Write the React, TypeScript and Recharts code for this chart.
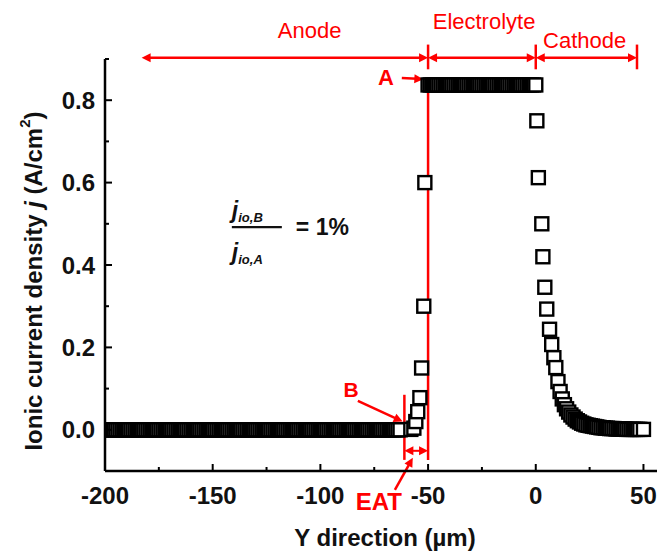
import React from 'react';
import { ScatterChart, Scatter, XAxis, YAxis, ReferenceLine, ReferenceDot } from 'recharts';

const RED = '#ff0000';
const FONT = '"Liberation Sans", Arial, Helvetica, sans-serif';

// axes
const xDomain = [-200, 60];
const yDomain = [-0.1, 0.9];
const xMajorTicks = [-200, -150, -100, -50, 0, 50];
const xMinorTicks = [-175, -125, -75, -25, 25];
const yMajorTicks = [0, 0.2, 0.4, 0.6, 0.8];
const yMinorTicks = [0.1, 0.3, 0.5, 0.7, 0.9];

// anode flat region (j ~ 0)
const anodeX = [
  -200, -199, -198, -197, -196, -195, -194, -193, -192, -191,
  -190, -189, -188, -187, -186, -185, -184, -183, -182, -181,
  -180, -179, -178, -177, -176, -175, -174, -173, -172, -171,
  -170, -169, -168, -167, -166, -165, -164, -163, -162, -161,
  -160, -159, -158, -157, -156, -155, -154, -153, -152, -151,
  -150, -149, -148, -147, -146, -145, -144, -143, -142, -141,
  -140, -139, -138, -137, -136, -135, -134, -133, -132, -131,
  -130, -129, -128, -127, -126, -125, -124, -123, -122, -121,
  -120, -119, -118, -117, -116, -115, -114, -113, -112, -111,
  -110, -109, -108, -107, -106, -105, -104, -103, -102, -101,
  -100, -99, -98, -97, -96, -95, -94, -93, -92, -91,
  -90, -89, -88, -87, -86, -85, -84, -83, -82, -81,
  -80, -79, -78, -77, -76, -75, -74, -73, -72, -71,
  -70, -69, -68, -67, -66, -65, -64, -63,
];
const anodeLevel = 0;

// rise in front of the electrolyte
const rampX = [-58, -56.6, -55.7, -54.8, -53.8, -53, -52, -51.5];
const rampY = [0.001, 0.004, 0.02, 0.044, 0.078, 0.15, 0.3, 0.6];

// electrolyte plateau
const plateauX = [
  -50, -49, -48, -47, -46, -45, -44, -43, -42, -41,
  -40, -39, -38, -37, -36, -35, -34, -33, -32, -31,
  -30, -29, -28, -27, -26, -25, -24, -23, -22, -21,
  -20, -19, -18, -17, -16, -15, -14, -13, -12, -11,
  -10, -9, -8, -7, -6, -5, -4, -3, -2, -1, 0,
];
const plateauLevel = 0.837;

// cathode decay
const cathodeX = [
  0.5, 1.2, 2.8, 3.3, 4.2, 5.1, 6.4, 7.4, 8.4, 9.3,
  10.3, 11.3, 12.3, 13.3, 14.3, 15.3, 16.3, 17.3, 18.3, 19.3,
  20.3, 21.3, 22.3, 23.3, 24.3, 25.3, 26.3, 27.3, 28.3, 29.3,
  30.3, 31.3, 32.3, 33.3, 34.3, 35.3, 36.3, 37.3, 38.3, 39.3,
  40.3, 41.3, 42.3, 43.3, 44.3, 45.3, 46.3, 47.3, 48.3, 50,
];
const cathodeY = [
  0.75, 0.612, 0.5, 0.42, 0.346, 0.293, 0.244, 0.207, 0.175, 0.151,
  0.117, 0.093, 0.075, 0.061, 0.051, 0.043, 0.036, 0.031, 0.026, 0.022,
  0.019, 0.016, 0.014, 0.012, 0.011, 0.01, 0.009, 0.008, 0.007, 0.006,
  0.005, 0.005, 0.004, 0.004, 0.003, 0.003, 0.003, 0.002, 0.002, 0.002,
  0.002, 0.002, 0.001, 0.001, 0.001, 0.001, 0.001, 0.001, 0.001, 0.001,
];

// annotations (data coordinates)
const regionNames = ['Anode', 'Electrolyte', 'Cathode'];
const regionBounds = [-183, -50, 0, 47];
const regionArrowY = 0.903;
const regionLabelPos = [
  { x: -105, y: 0.97 },
  { x: -24, y: 0.99 },
  { x: 22.7, y: 0.944 },
];

const anodeData = anodeX.map((x) => ({ x, y: anodeLevel }));
const rampData = rampX.map((x, i) => ({ x, y: rampY[i] }));
const plateauData = plateauX.map((x) => ({ x, y: plateauLevel }));
const cathodeData = cathodeX.map((x, i) => ({ x, y: cathodeY[i] }));

const Square = (p: any) => (
  <rect
    x={p.cx - 6.5}
    y={p.cy - 6.5}
    width={13}
    height={13}
    fill="#fff"
    stroke="#000"
    strokeWidth={2.4}
  />
);

function arrowShape(both: boolean, sw = 2.5) {
  return (p: any) => {
    const { x1, y1, x2, y2 } = p;
    const dx = x2 - x1;
    const dy = y2 - y1;
    const len = Math.hypot(dx, dy) || 1;
    const ux = dx / len;
    const uy = dy / len;
    const nx = -uy;
    const ny = ux;
    const L = 9;
    const W = 4.5;
    const head = (tx: number, ty: number, sx: number, sy: number) =>
      `M${tx},${ty} L${tx - sx * L + nx * W},${ty - sy * L + ny * W} L${tx - sx * L - nx * W},${ty - sy * L - ny * W} Z`;
    const sx = both ? x1 + ux * L * 0.7 : x1;
    const sy = both ? y1 + uy * L * 0.7 : y1;
    const ex = x2 - ux * L * 0.7;
    const ey = y2 - uy * L * 0.7;
    return (
      <g>
        <line x1={sx} y1={sy} x2={ex} y2={ey} stroke={RED} strokeWidth={sw} />
        <path d={head(x2, y2, ux, uy)} fill={RED} />
        {both && <path d={head(x1, y1, -ux, -uy)} fill={RED} />}
      </g>
    );
  };
}

const redLine = (p: any) => (
  <line x1={p.x1} y1={p.y1} x2={p.x2} y2={p.y2} stroke={RED} strokeWidth={2.5} />
);

function textShape(label: string, size: number, weight: string) {
  return (p: any) => (
    <text
      x={p.cx}
      y={p.cy}
      textAnchor="middle"
      dominantBaseline="central"
      fill={RED}
      fontSize={size}
      fontWeight={weight}
      fontFamily={FONT}
    >
      {label}
    </text>
  );
}

const formulaShape = (p: any) => {
  const cx = p.cx;
  const cy = p.cy;
  return (
    <g fontFamily={FONT} fill="#111">
      <text x={cx - 25} y={cy - 9} fontSize={23} fontStyle="italic" fontWeight="bold">
        j
        <tspan fontSize={13} dy={4}>io,B</tspan>
      </text>
      <line x1={cx - 25} x2={cx + 25} y1={cy} y2={cy} stroke="#111" strokeWidth={2.2} />
      <text x={cx - 25} y={cy + 33} fontSize={23} fontStyle="italic" fontWeight="bold">
        j
        <tspan fontSize={13} dy={4}>io,A</tspan>
      </text>
      <text x={cx + 39} y={cy + 8} fontSize={23} fontWeight="bold">
        = 1%
      </text>
    </g>
  );
};

const XTick = (p: any) => {
  const v = p.payload.value;
  const major = xMajorTicks.includes(v);
  return (
    <g>
      <line x1={p.x} x2={p.x} y1={p.y} y2={p.y - (major ? 7 : 4)} stroke="#000" strokeWidth={2} />
      {major && (
        <text
          x={p.x}
          y={p.y + 24}
          textAnchor="middle"
          dominantBaseline="central"
          fontSize={24}
          fontWeight="bold"
          fontFamily={FONT}
          fill="#111"
        >
          {v}
        </text>
      )}
    </g>
  );
};

const YTick = (p: any) => {
  const v = p.payload.value;
  const major = yMajorTicks.includes(v);
  return (
    <g>
      <line x1={p.x} x2={p.x + (major ? 7 : 4)} y1={p.y} y2={p.y} stroke="#000" strokeWidth={2} />
      {major && (
        <text
          x={p.x - 10}
          y={p.y}
          textAnchor="end"
          dominantBaseline="central"
          fontSize={24}
          fontWeight="bold"
          fontFamily={FONT}
          fill="#111"
        >
          {v.toFixed(1)}
        </text>
      )}
    </g>
  );
};

const XTitle = (p: any) => {
  const vb = p.viewBox;
  return (
    <text
      x={vb.x + vb.width / 2}
      y={vb.y + 66}
      textAnchor="middle"
      dominantBaseline="central"
      fontSize={24}
      fontWeight="bold"
      fontFamily={FONT}
      fill="#111"
    >
      Y direction (µm)
    </text>
  );
};

const YTitle = (p: any) => {
  const vb = p.viewBox;
  const x = vb.x - 12;
  const y = vb.y + vb.height / 2 + 16;
  return (
    <text
      x={x}
      y={y}
      transform={`rotate(-90 ${x} ${y})`}
      textAnchor="middle"
      dominantBaseline="central"
      fontSize={24}
      fontWeight="bold"
      fontFamily={FONT}
      fill="#111"
    >
      Ionic current density <tspan fontStyle="italic">j</tspan> (A/cm
      <tspan fontSize={15} dy={-9}>2</tspan>
      <tspan dy={9}>)</tspan>
    </text>
  );
};

export default function App() {
  return (
    <ScatterChart
      width={657}
      height={551}
      margin={{ top: 51, right: 0, bottom: 48, left: 37 }}
      style={{ fontFamily: FONT }}
    >
      <XAxis
        type="number"
        dataKey="x"
        domain={xDomain}
        allowDataOverflow
        ticks={[...xMajorTicks, ...xMinorTicks]}
        interval={0}
        tickLine={false}
        tickSize={0}
        tickMargin={0}
        tick={XTick}
        height={40}
        axisLine={{ stroke: '#000', strokeWidth: 2.5 }}
        label={XTitle}
      />
      <YAxis
        type="number"
        dataKey="y"
        domain={yDomain}
        allowDataOverflow
        ticks={[...yMajorTicks, ...yMinorTicks]}
        interval={0}
        tickLine={false}
        tickSize={0}
        tickMargin={0}
        tick={YTick}
        width={60}
        axisLine={{ stroke: '#000', strokeWidth: 2.5 }}
        label={YTitle}
      />
      <Scatter data={anodeData} shape={Square} isAnimationActive={false} />
      <Scatter data={rampData} shape={Square} isAnimationActive={false} />
      <Scatter data={plateauData} shape={Square} isAnimationActive={false} />
      <Scatter data={cathodeData} shape={Square} isAnimationActive={false} />

      {/* region arrows */}
      {regionNames.map((name, i) => (
        <ReferenceLine
          key={'ra' + name}
          segment={[
            { x: regionBounds[i], y: regionArrowY },
            { x: regionBounds[i + 1], y: regionArrowY },
          ]}
          ifOverflow="visible"
          shape={arrowShape(true)}
        />
      ))}
      {regionBounds.slice(1).map((b) => (
        <ReferenceLine
          key={'rb' + b}
          segment={[
            { x: b, y: 0.875 },
            { x: b, y: 0.935 },
          ]}
          ifOverflow="visible"
          shape={redLine}
        />
      ))}
      {regionNames.map((name, i) => (
        <ReferenceDot
          key={'rl' + name}
          x={regionLabelPos[i].x}
          y={regionLabelPos[i].y}
          ifOverflow="visible"
          shape={textShape(name, 22, 'normal')}
        />
      ))}

      {/* interface lines */}
      <ReferenceLine
        segment={[
          { x: -50, y: 0.837 },
          { x: -50, y: -0.073 },
        ]}
        ifOverflow="visible"
        shape={redLine}
      />
      <ReferenceLine
        segment={[
          { x: -61, y: 0.085 },
          { x: -61, y: -0.073 },
        ]}
        ifOverflow="visible"
        shape={redLine}
      />
      <ReferenceLine
        segment={[
          { x: -61, y: -0.051 },
          { x: -50, y: -0.051 },
        ]}
        ifOverflow="visible"
        shape={arrowShape(true, 2)}
      />

      {/* A, B, EAT pointers */}
      <ReferenceLine
        segment={[
          { x: -62.2, y: 0.854 },
          { x: -52.2, y: 0.851 },
        ]}
        ifOverflow="visible"
        shape={arrowShape(false, 2.5)}
      />
      <ReferenceDot x={-69.6} y={0.854} ifOverflow="visible" shape={textShape('A', 22, 'bold')} />
      <ReferenceLine
        segment={[
          { x: -82.6, y: 0.07 },
          { x: -61.8, y: 0.02 },
        ]}
        ifOverflow="visible"
        shape={arrowShape(false, 2.5)}
      />
      <ReferenceDot x={-85.8} y={0.097} ifOverflow="visible" shape={textShape('B', 21, 'bold')} />
      <ReferenceLine
        segment={[
          { x: -65.4, y: -0.146 },
          { x: -57.1, y: -0.068 },
        ]}
        ifOverflow="visible"
        shape={arrowShape(false, 2.5)}
      />
      <ReferenceDot x={-72.9} y={-0.173} ifOverflow="visible" shape={textShape('EAT', 24, 'bold')} />

      {/* ratio formula */}
      <ReferenceDot x={-129.5} y={0.492} ifOverflow="visible" shape={formulaShape} />
    </ScatterChart>
  );
}
